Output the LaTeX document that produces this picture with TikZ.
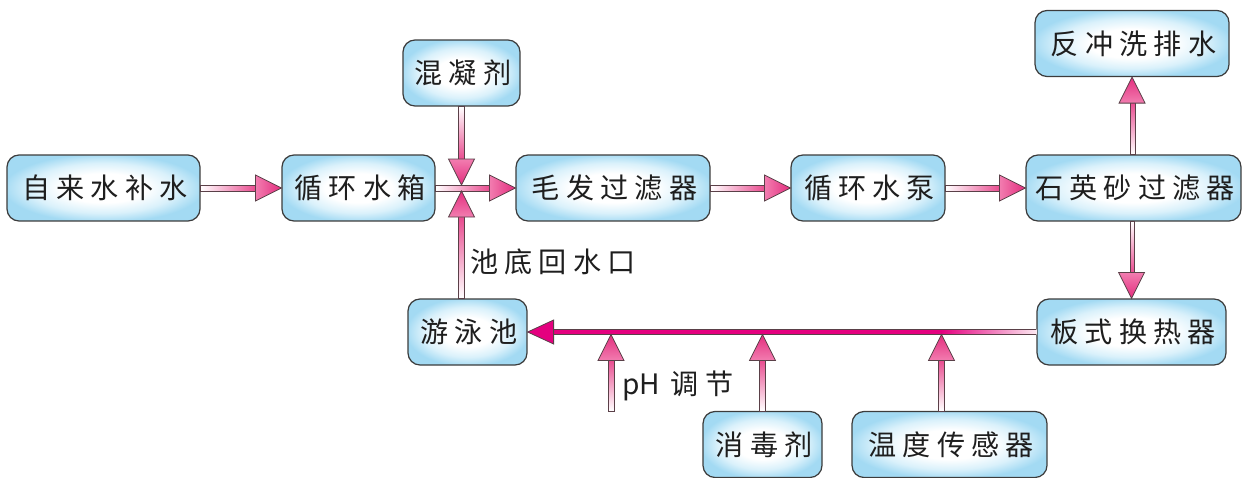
\documentclass[tikz,border=0pt]{standalone}
\usepackage{fontspec}
\newfontfamily\cjk[LetterSpace=22]{Noto Sans CJK SC}
\newfontfamily\cjkplain{Noto Sans CJK SC}
\usetikzlibrary{calc}

\definecolor{boxline}{HTML}{3C3C3C}
\definecolor{boxouter}{HTML}{A3DAF3}
\definecolor{boxmid}{HTML}{DAF1FB}
\definecolor{pipeline}{HTML}{5A4048}
\definecolor{pipepink}{HTML}{E8468C}
\definecolor{headlight}{HTML}{F27DB0}
\definecolor{headdark}{HTML}{E32D7E}
\definecolor{mainpink}{HTML}{E4007F}
\definecolor{txt}{HTML}{1E1E1E}

\pgfdeclareradialshading{boxglow}{\pgfpoint{0bp}{0bp}}{%
  color(0bp)=(white); color(11bp)=(white); color(19bp)=(boxmid);
  color(26bp)=(boxouter); color(50bp)=(boxouter)}

\tikzset{
  box/.style={draw=boxline, line width=0.7pt, rounded corners=0.24cm,
    shading=boxglow, inner xsep=2pt, text=txt,
    minimum height=1.32cm, font=\cjk\fontsize{16}{19}\selectfont,
    execute at begin node=\kern0.11em},
  pipe/.style={draw=pipeline, line width=0.45pt},
  pipehead/.style={draw=pipeline, line width=0.45pt, line join=miter},
  lbl/.style={anchor=west, inner sep=0pt, text=txt, font=\cjk\fontsize{16}{19}\selectfont}
}

% fat arrows: #1 tail, #2 tip
\newcommand{\pipeR}[2]{%
  \draw[pipe, left color=white, right color=pipepink]
    ($(#1)+(0,-3)$) rectangle ($(#2)+(-24,3)$);
  \draw[pipehead, left color=headlight, right color=headdark]
    (#2) -- ($(#2)+(-26,-13)$) -- ($(#2)+(-26,13)$) -- cycle;
}
\newcommand{\pipeU}[2]{%
  \draw[pipe, bottom color=white, top color=pipepink]
    ($(#1)+(-3,0)$) rectangle ($(#2)+(3,24)$);
  \draw[pipehead, bottom color=headlight, top color=headdark]
    (#2) -- ($(#2)+(-13,26)$) -- ($(#2)+(13,26)$) -- cycle;
}
\newcommand{\pipeD}[2]{%
  \draw[pipe, top color=white, bottom color=pipepink]
    ($(#1)+(-3,0)$) rectangle ($(#2)+(3,-24)$);
  \draw[pipehead, top color=headlight, bottom color=headdark]
    (#2) -- ($(#2)+(-13,-26)$) -- ($(#2)+(13,-26)$) -- cycle;
}

\begin{document}
\begin{tikzpicture}[x=0.02cm, y=-0.02cm]
    \useasboundingbox (0,0) rectangle (1247,477);

    % treatment line
    \node[box, minimum width=3.86cm] (tap) at (103.5,188) {自来水补水};
    \node[box, minimum width=3.06cm] (tank) at (358.5,188) {循环水箱};
    \node[box, minimum width=2.34cm] (coag) at (461.5,73) {混凝剂};
    \node[box, minimum width=3.88cm] (hair) at (613,188) {毛发过滤器};
    \node[box, minimum width=3.08cm] (pump) at (868,188) {循环水泵};
    \node[box, minimum width=4.30cm] (sand) at (1133.5,188) {石英砂过滤器};
    \node[box, minimum width=3.88cm] (back) at (1132,43.5) {反冲洗排水};

    % return line
    \node[box, minimum width=3.78cm] (heat) at (1131.5,332) {板式换热器};
    \node[box, minimum width=2.38cm] (pool) at (467.5,332) {游泳池};
    \node[box, minimum width=2.38cm] (disinf) at (762.5,444.5) {消毒剂};
    \node[box, minimum width=3.90cm] (temp) at (949.5,444.5) {温度传感器};

    \coordinate (mix) at (coag.south |- tank.east);
    \coordinate (mixtop) at ($(mix)+(0,-3)$);
    \coordinate (mixbot) at ($(mix)+(0,3)$);
    \coordinate (phin) at (611,411);
    \coordinate (tempout) at ($(temp.north)+(-8,0)$);
    \path (phin |- pool.east) ++(0,2.5) coordinate (phtip);
    \path (disinf.north |- pool.east) ++(0,2.5) coordinate (distip);
    \path (tempout |- pool.east) ++(0,2.5) coordinate (temptip);
    \path (tempout |- heat.west) coordinate (tempjoin);

    \pipeR{tap.east}{tank.west}
    \pipeR{tank.east}{hair.west}
    \pipeD{coag.south}{mixtop}
    \pipeU{mix |- pool.north}{mixbot}
    \pipeR{hair.east}{pump.west}
    \pipeR{pump.east}{sand.west}
    \pipeU{sand.north}{back.south}
    \pipeD{sand.south}{heat.north}

    % main return pipe
    \fill[mainpink] ($(pool.east)+(20,-2.5)$) rectangle ($(tempjoin)+(0,2.5)$);
    \shade[left color=mainpink, right color=pipepink!12] ($(tempjoin)+(0,-2.5)$) rectangle ($(heat.west)+(0,2.5)$);
    \draw[pipe] ($(pool.east)+(20,-2.5)$) -- ($(heat.west)+(0,-2.5)$);
    \draw[pipe] ($(pool.east)+(20,2.5)$) -- ($(heat.west)+(0,2.5)$);
    \draw[pipehead, fill=mainpink] (pool.east) -- ($(pool.east)+(26,-12)$) -- ($(pool.east)+(26,12)$) -- cycle;

    \pipeU{phin}{phtip}
    \pipeU{disinf.north}{distip}
    \pipeU{tempout}{temptip}

    \node[lbl] (backlbl) at (470,262) {池底回水口};
    \node[lbl] (phlbl) at (622,386) {{\cjkplain pH}\hspace{6pt}调节};
\end{tikzpicture}
\end{document}
